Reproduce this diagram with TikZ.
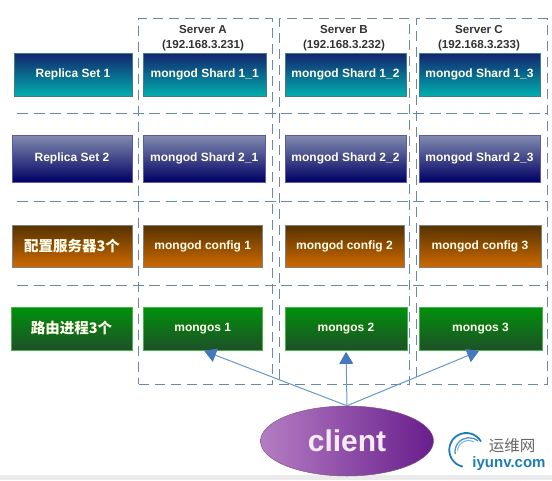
\documentclass[tikz,border=0pt]{standalone}
\usepackage{fontspec}
\setmainfont{Liberation Sans}
\newfontfamily\cjkfont{Noto Sans CJK SC}
\usetikzlibrary{arrows.meta, shapes.geometric}
\definecolor{frameblue}{RGB}{105,135,170}
\definecolor{arrowblue}{RGB}{105,150,200}
\definecolor{tipblue}{RGB}{70,120,190}
\definecolor{logoblue}{RGB}{30,125,185}
\definecolor{tealtop}{RGB}{20,35,110}
\definecolor{tealend}{RGB}{0,175,175}
\definecolor{navytop}{RGB}{130,140,175}
\definecolor{navyend}{RGB}{0,0,100}
\definecolor{browntop}{RGB}{85,50,0}
\definecolor{brownend}{RGB}{205,105,0}
\definecolor{greentop}{RGB}{0,145,10}
\definecolor{greenend}{RGB}{30,80,40}
\definecolor{clientleft}{RGB}{180,125,195}
\definecolor{clientright}{RGB}{105,30,140}
\tikzset{
box/.style={
       rectangle,
       draw=#1,
       line width=.7pt,
       text=white!92!yellow,
       font=\fontsize{12}{14}\selectfont\bfseries,
       inner sep=0pt,
       },
tealbox/.style={box=teal!50!gray, top color=tealtop, bottom color=tealend},
navybox/.style={box=gray!70!blue, top color=navytop, bottom color=navyend},
brownbox/.style={box=gray, top color=browntop, bottom color=brownend},
greenbox/.style={box=gray!60!green, top color=greentop, bottom color=greenend},
server/.style={
       rectangle,
       draw=frameblue,
       line width=1pt,
       dash pattern=on 10pt off 6pt,
       inner sep=0pt,
       },
sepline/.style={draw=frameblue, line width=1pt, dash pattern=on 11pt off 5.5pt},
title/.style={
       align=center,
       text=black!80,
       font=\fontsize{11.6}{15}\selectfont\bfseries,
       },
link/.style={
       draw=arrowblue,
       line width=1pt,
       shorten >=1.5pt,
       -{Triangle[length=12pt, width=14pt, color=tipblue]},
       },
}
\begin{document}
\begin{tikzpicture}[x=1pt, y=-1pt]
      \useasboundingbox (0,0) rectangle (552,480);
      \fill[black!8] (0,475) rectangle (552,480);

      % server frames
      \foreach \n/\xa/\xb in {serverA/138.5/272, serverB/279/409, serverC/416/547} {
          \node [server, minimum width={\xb pt-\xa pt}, minimum height=365.5pt] (\n) at ({(\xa+\xb)/2},201.25) {};
      }
      \foreach \y in {113, 201, 285} {
          \draw [sepline] (17,\y) -- (547,\y);
      }
      \node [title] (titleA) at (203,38) {Server A\\(192.168.3.231)};
      \node [title] (titleB) at (344,38) {Server B\\(192.168.3.232)};
      \node [title] (titleC) at (479,38) {Server C\\(192.168.3.233)};

      % boxes of each row
      \foreach \n/\s/\xa/\xb/\ya/\yb/\l in {
          set1/tealbox/14/132/53/96/Replica Set 1,
          shard11/tealbox/143.5/266/53/96/mongod Shard 1\_1,
          shard12/tealbox/285/406/53/96/mongod Shard 1\_2,
          shard13/tealbox/419/540/53/96/mongod Shard 1\_3,
          set2/navybox/12/132/135/182/Replica Set 2,
          shard21/navybox/143.5/265/135/182/mongod Shard 2\_1,
          shard22/navybox/285/406/135/182/mongod Shard 2\_2,
          shard23/navybox/419/540/135/182/mongod Shard 2\_3,
          cfgs/brownbox/12/132/225/267/{\fontsize{14.5}{16}\selectfont\cjkfont 配置服务器3个},
          config1/brownbox/143.5/262/225/267/mongod config 1,
          config2/brownbox/285/404/225/267/mongod config 2,
          config3/brownbox/419/541/225/267/mongod config 3,
          routers/greenbox/11/132/307/350/{\fontsize{14.5}{16}\selectfont\cjkfont 路由进程3个},
          mongos1/greenbox/143.5/262/307/350/mongos 1,
          mongos2/greenbox/285/407/307/350/mongos 2,
          mongos3/greenbox/419/542/307/350/mongos 3
      } {
          \node [\s, minimum width={\xb pt-\xa pt}, minimum height={\yb pt-\ya pt}] (\n) at ({(\xa+\xb)/2},{(\ya+\yb)/2}) {\l};
      }

      \node [ellipse, draw=gray!70!violet, line width=.5pt, minimum width=173pt, minimum height=70pt,
             left color=clientleft, right color=clientright,
             text=white!92!violet, font=\fontsize{30}{34}\selectfont\bfseries] (client) at (347,441) {client};

      \foreach \n in {mongos1, mongos2, mongos3} {
          \draw [link] (client.north) -- (\n.south);
      }

      % logo
      \draw [logoblue, line width=1.8pt] (481,441.5) arc[start angle=30, end angle=258, radius=17pt];
      \draw [logoblue!80, line width=1.3pt] (478,441) arc[start angle=50, end angle=190, radius=14pt];
      \draw [logoblue!60, line width=1pt] (474,442) arc[start angle=60, end angle=175, radius=11pt];
      \node [text=black!60, font=\cjkfont\fontsize{15.5}{17}\selectfont] (logotext) at (512,446) {运维网};
      \node [text=logoblue, font=\fontsize{15}{17}\selectfont\bfseries] (logourl) at (509,464) {iyunv.com};
\end{tikzpicture}
\end{document}
